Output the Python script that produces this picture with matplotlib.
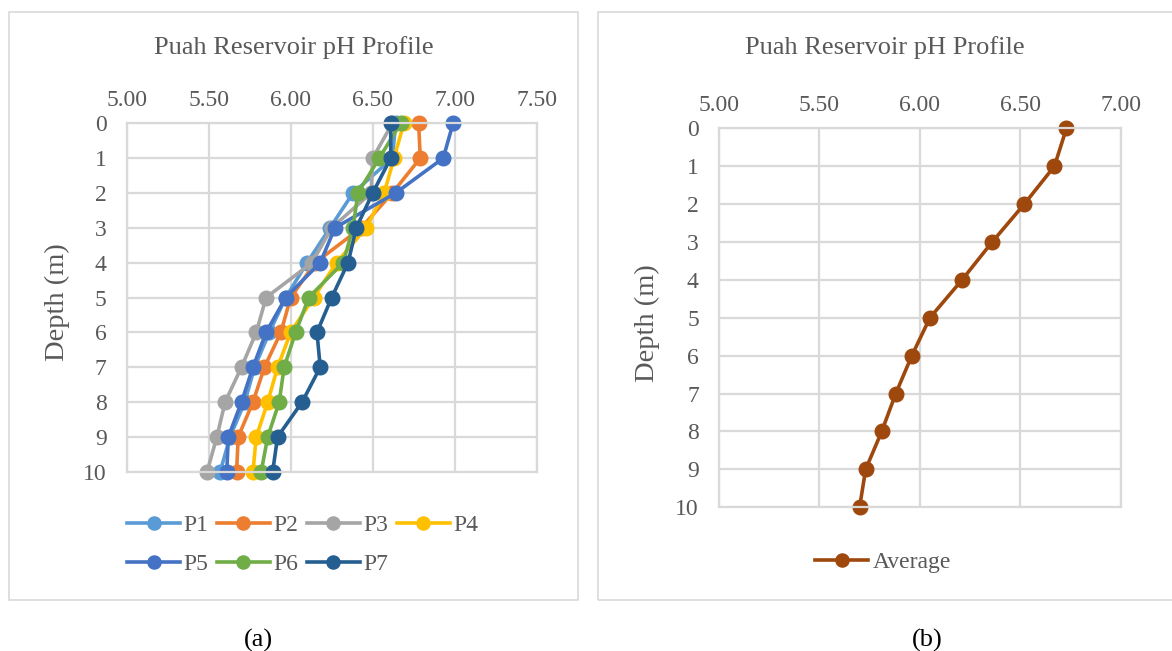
import matplotlib
matplotlib.use("Agg")
import matplotlib.pyplot as plt
from matplotlib.patches import Rectangle

depth = [0, 1, 2, 3, 4, 5, 6, 7, 8, 9, 10]
P1 = [6.64, 6.62, 6.38, 6.24, 6.10, 5.97, 5.87, 5.78, 5.72, 5.63, 5.57]
P2 = [6.78, 6.79, 6.62, 6.43, 6.15, 6.00, 5.94, 5.84, 5.77, 5.68, 5.67]
P3 = [6.62, 6.50, 6.49, 6.25, 6.13, 5.85, 5.79, 5.70, 5.60, 5.55, 5.49]
P4 = [6.69, 6.63, 6.57, 6.46, 6.28, 6.14, 6.00, 5.92, 5.86, 5.79, 5.77]
P5 = [6.99, 6.93, 6.64, 6.27, 6.18, 5.97, 5.85, 5.77, 5.70, 5.62, 5.61]
P6 = [6.67, 6.54, 6.41, 6.38, 6.32, 6.11, 6.03, 5.96, 5.93, 5.86, 5.82]
P7 = [6.61, 6.61, 6.50, 6.40, 6.35, 6.25, 6.16, 6.18, 6.07, 5.92, 5.89]
average = [6.73, 6.67, 6.52, 6.36, 6.21, 6.05, 5.96, 5.88, 5.81, 5.73, 5.70]

series_names = ["P1", "P2", "P3", "P4", "P5", "P6", "P7"]
series_values = [P1, P2, P3, P4, P5, P6, P7]
series_colors = ["#5B9BD5", "#ED7D31", "#A5A5A5", "#FFC000", "#4472C4", "#70AD47", "#255E91"]
avg_color = "#9E480E"

xticks_a = [5.00, 5.50, 6.00, 6.50, 7.00, 7.50]
xticks_b = [5.00, 5.50, 6.00, 6.50, 7.00]
title_text = "Puah Reservoir pH Profile"

W, H = 1172, 651
plt.rcParams['font.family'] = ['Liberation Serif', 'DejaVu Serif']
txt = "#595959"
grid_c = "#D9D9D9"
TICK_FS = 17
TITLE_FS = 19
YLABEL_FS = 20.5

fig = plt.figure(figsize=(W / 100, H / 100), dpi=100)


def fx(x):
    return x / W


def fy(y):
    return 1 - y / H


def px_axes(x0, y0, x1, y1):
    return fig.add_axes([x0 / W, 1 - y1 / H, (x1 - x0) / W, (y1 - y0) / H])


# panel frames
for (x0, y0, x1, y1) in [(9, 12, 578, 600), (598, 12, 1180, 600)]:
    fig.add_artist(Rectangle((fx(x0), fy(y1)), (x1 - x0) / W, (y1 - y0) / H,
                             transform=fig.transFigure, fill=False,
                             edgecolor=grid_c, linewidth=1.2))


def style(ax, xticks, xlim):
    ax.set_xlim(*xlim)
    ax.set_ylim(10, 0)
    ax.set_xticks(xticks)
    ax.set_xticklabels([f"{v:.2f}" for v in xticks])
    ax.set_yticks(depth)
    ax.xaxis.tick_top()
    ax.tick_params(axis='both', length=0, labelsize=TICK_FS, colors=txt)
    ax.tick_params(axis='x', pad=9)
    ax.tick_params(axis='y', pad=14.5)
    ax.grid(True, color=grid_c, linewidth=1.6)
    ax.set_axisbelow(True)
    for s in ax.spines.values():
        s.set_color(grid_c)
        s.set_linewidth(1.6)
    ax.set_ylabel("Depth (m)", fontsize=YLABEL_FS, color=txt)


# Panel (a)
ax1 = px_axes(126.7, 123.3, 536.7, 471.7)
style(ax1, xticks_a, (5.0, 7.5))
handles = []
for name, vals, col in zip(series_names, series_values, series_colors):
    h, = ax1.plot(vals, depth, color=col, linewidth=2.6, marker='o',
                  markersize=10.5, label=name, clip_on=False)
    handles.append(h)
ax1.yaxis.set_label_coords(-0.138, 0.487)
order = [0, 4, 1, 5, 2, 6, 3]
fig.legend([handles[i] for i in order], [series_names[i] for i in order],
           ncol=4, loc='center left', bbox_to_anchor=(fx(127), fy(545)),
           bbox_transform=fig.transFigure, borderpad=0, borderaxespad=0,
           frameon=False, fontsize=TICK_FS, labelcolor=txt, handlelength=2.25,
           handletextpad=0.15, columnspacing=0.35, labelspacing=0.75,
           markerscale=0.9)

# Panel (b)
ax2 = px_axes(719, 128.3, 1120.7, 507.3)
style(ax2, xticks_b, (5.0, 7.0))
ax2.plot(average, depth, color=avg_color, linewidth=2.6, marker='o',
         markersize=10.5, label="Average", clip_on=False)
ax2.yaxis.set_label_coords(-0.147, 0.486)
fig.legend(*ax2.get_legend_handles_labels(), loc='center left',
           bbox_to_anchor=(fx(815), fy(562)), bbox_transform=fig.transFigure,
           borderpad=0, borderaxespad=0, frameon=False, fontsize=TICK_FS,
           labelcolor=txt, handlelength=2.25, handletextpad=0.2, markerscale=0.9)

# titles centred on each panel frame
fig.text(fx(293.5), fy(48), title_text, fontsize=TITLE_FS, color=txt,
         ha='center', va='center')
fig.text(fx(885), fy(48), title_text, fontsize=TITLE_FS, color=txt,
         ha='center', va='center')

fig.text(fx(258), fy(640), "(a)", fontsize=19, color="black", ha='center', va='center')
fig.text(fx(927), fy(640), "(b)", fontsize=19, color="black", ha='center', va='center')

fig.savefig("out.png", dpi=100, facecolor="white")
